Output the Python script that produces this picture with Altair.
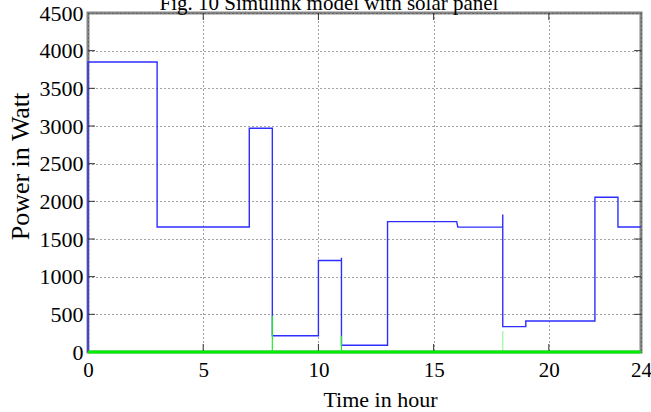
import altair as alt
import pandas as pd

# Blue series (step corners, in drawing order)
blue_t = [0, 0, 3, 3, 7, 7, 8, 8, 10, 10, 11, 11, 11, 13, 13, 16, 16.05, 18, 18, 18, 19, 19, 22, 22, 23, 23, 24]
blue_p = [0, 3850, 3850, 1660, 1660, 2970, 2970, 215, 215, 1215, 1215, 1250, 89, 89, 1730, 1730, 1658, 1658, 1826, 337, 337, 411, 411, 2055, 2055, 1660, 1660]

# Green series: baseline at zero plus short transient spikes
green_t = [0, 24]
green_p = [0, 0]
spike_t = [8, 11, 18]
spike_top = [480, 215, 280]
spike_opacity = [1.0, 1.0, 0.45]

x_ticks = [0, 5, 10, 15, 20, 24]
x_inner_ticks = [5, 10, 15, 20]
y_ticks = [0, 500, 1000, 1500, 2000, 2500, 3000, 3500, 4000, 4500]

title_text = "Fig. 10 Simulink model with solar panel"
x_title = "Time in hour"
y_title = "Power in Watt"

W, H = 553, 339
FONT = "Liberation Serif"

blue_df = pd.DataFrame({"t": blue_t, "p": blue_p, "i": list(range(len(blue_t)))})
green_df = pd.DataFrame({"t": green_t, "p": green_p})
spike_df = pd.DataFrame({"t": spike_t, "top": spike_top, "op": spike_opacity, "p": [0] * len(spike_t)})
xt_df = pd.DataFrame({"t": x_inner_ticks})
yt_df = pd.DataFrame({"p": y_ticks[1:-1]})

xscale = alt.Scale(domain=[0, 24], nice=False, zero=False)
yscale = alt.Scale(domain=[0, 4500], nice=False)

xaxis = alt.Axis(
    values=x_ticks, title=x_title, ticks=False, domain=False,
    labelFont=FONT, labelFontSize=21, labelColor="black", labelPadding=7,
    labelFlush=False, labelOverlap=False,
    titleFont=FONT, titleFontSize=22, titleFontWeight="normal", titleColor="black",
    titleX=292, titleY=54, titleBaseline="alphabetic", titleAlign="center",
    grid=True, gridDash=[1, 3], gridColor="#444444", gridWidth=1, gridOpacity=1,
    format="d",
)
yaxis = alt.Axis(
    values=y_ticks, title=y_title, ticks=False, domain=False,
    labelFont=FONT, labelFontSize=22, labelColor="black", labelPadding=5,
    labelFlush=False, labelOverlap=False,
    titleFont=FONT, titleFontSize=26, titleFontWeight="normal", titleColor="black",
    titleX=-60, titleY=153, titleBaseline="alphabetic", titleAlign="center", titleAngle=-90,
    grid=True, gridDash=[1, 3], gridColor="#444444", gridWidth=1, gridOpacity=1,
    format="d",
)


def X():
    return alt.X("t:Q", scale=xscale, axis=xaxis)


def Y():
    return alt.Y("p:Q", scale=yscale, axis=yaxis)


blue = alt.Chart(blue_df).mark_line(color="#2e2eff", strokeWidth=1.4).encode(
    x=X(), y=Y(), order="i:Q",
)

green = alt.Chart(green_df).mark_line(color="#00ee00", strokeWidth=3).encode(
    x=X(), y=Y(),
)

spikes = alt.Chart(spike_df).mark_rule(color="#22ee22", strokeWidth=1.2).encode(
    x=X(), y=Y(), y2="top:Q",
    opacity=alt.Opacity("op:Q", scale=None, legend=None),
)

tick_style = dict(color="#333333", strokeWidth=1)
xt_bottom = alt.Chart(xt_df).mark_rule(**tick_style).encode(
    x=X(), y=alt.value(H - 8), y2=alt.value(H))
xt_top = alt.Chart(xt_df).mark_rule(**tick_style).encode(
    x=X(), y=alt.value(0), y2=alt.value(7))
yt_left = alt.Chart(yt_df).mark_rule(**tick_style).encode(
    y=Y(), x=alt.value(0), x2=alt.value(7))
yt_right = alt.Chart(yt_df).mark_rule(**tick_style).encode(
    y=Y(), x=alt.value(W - 7), x2=alt.value(W))

title = alt.Chart(pd.DataFrame({"s": [title_text]})).mark_text(
    font=FONT, fontSize=21, color="black", align="center", baseline="alphabetic"
).encode(x=alt.value(241), y=alt.value(-3.5), text="s:N")

chart = alt.layer(
    blue, xt_bottom, xt_top, yt_left, yt_right, spikes, green, title
).properties(
    width=W, height=H,
    padding={"left": 88, "top": 13, "right": 10, "bottom": 60},
    autosize=alt.AutoSizeParams(type="none"),
    background="white",
).configure_view(
    stroke="#858585", strokeWidth=3
)

chart.save("out.html", embed_options={"renderer": "svg", "actions": False})
